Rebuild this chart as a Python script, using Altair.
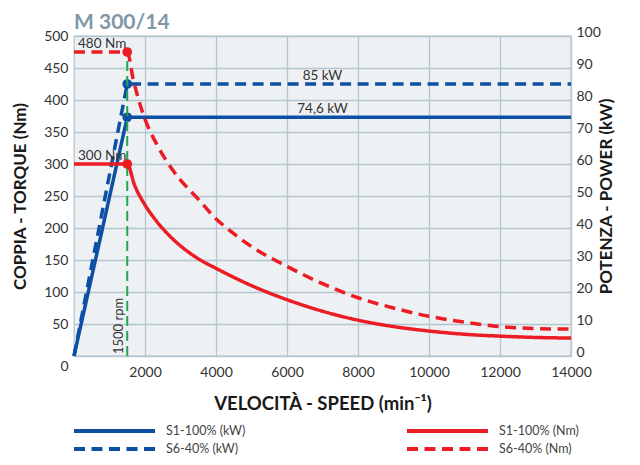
import altair as alt
import pandas as pd

# ---- data ----
s1_nm_speed = [0, 1500, 1700, 2000, 2250, 2800, 3500, 4000, 5000, 6000, 7000, 8000, 9000, 10000, 11000, 12000, 13000, 14000]
s1_nm_torque = [300, 300, 268, 236, 216, 182, 152, 137, 110, 88, 70, 56, 46, 39, 34, 31, 29, 28]

s6_nm_speed = [0, 1500, 1670, 2000, 2330, 2800, 3550, 3900, 4600, 5000, 6000, 7000, 8000, 9000, 10000, 11000, 12000, 13000, 14000]
s6_nm_torque = [475, 475, 432, 370, 331, 289, 242, 220, 187, 171, 140, 113, 91, 75, 62, 53, 46, 43, 42]

s1_kw_speed = [0, 1500, 14000]
s1_kw_power = [0, 74.6, 74.6]
s6_kw_speed = [0, 1500, 14000]
s6_kw_power = [0, 85, 85]

nm_series = ["S1-100% (Nm)", "S6-40% (Nm)"]
kw_series = ["S1-100% (kW)", "S6-40% (kW)"]

base_speed = 1500
nm_point_values = [300, 475]
kw_point_values = [74.6, 85]
nm_labels = ["300 Nm", "480 Nm"]
kw_labels = ["74,6 kW", "85 kW"]
kw_label_speed = 7000
rpm_label = "1500 rpm"

x_ticks = [2000, 4000, 6000, 8000, 10000, 12000, 14000]
y_nm_ticks = list(range(0, 501, 50))
y_kw_ticks = list(range(0, 101, 10))

BLUE = "#0d4fa3"
RED = "#ec1c24"
GREEN = "#1fa84b"
FONT = "Lato"

# ---- tables ----
nm_df = pd.concat([
    pd.DataFrame({"speed": s1_nm_speed, "val": s1_nm_torque, "series": nm_series[0]}),
    pd.DataFrame({"speed": s6_nm_speed, "val": s6_nm_torque, "series": nm_series[1]}),
])
kw_df = pd.concat([
    pd.DataFrame({"speed": s1_kw_speed, "val": s1_kw_power, "series": kw_series[0]}),
    pd.DataFrame({"speed": s6_kw_speed, "val": s6_kw_power, "series": kw_series[1]}),
])
nm_pts = pd.DataFrame({"speed": [base_speed] * 2, "val": nm_point_values, "label": nm_labels, "lx": [0, 0]})
kw_pts = pd.DataFrame({"speed": [base_speed] * 2, "val": kw_point_values, "label": kw_labels,
                       "lx": [kw_label_speed] * 2})
green_df = pd.DataFrame({"speed": [base_speed], "val": [0], "y1": [nm_point_values[1]], "label": [rpm_label]})

x_axis = alt.Axis(values=x_ticks, format="d", labelOverlap=False, labelFlush=False,
                  title="VELOCITÀ - SPEED (min⁻¹)",
                  labelFontSize=14, labelColor="#333", labelFont=FONT, labelPadding=9, ticks=False,
                  domain=False, grid=True, gridColor="#b5c5cd", gridWidth=1.3, titleFont=FONT,
                  titleFontSize=18.5, titleFontWeight="bold", titleColor="#1a1a1a", titlePadding=15)

left_axis = alt.Axis(orient="left", values=y_nm_ticks, labelOverlap=False, title="COPPIA - TORQUE (Nm)",
                     labelFontSize=14, labelColor="#333", labelFont=FONT, labelPadding=6, ticks=False,
                     domain=False, grid=True, gridColor="#b5c5cd", gridWidth=1.3,
                     labelOffset={"condition": {"test": "datum.value === 0", "value": 10}, "value": 0},
                     titleFont=FONT, titleFontSize=17, titleFontWeight="bold", titleColor="#1a1a1a",
                     titlePadding=14)
right_axis = alt.Axis(orient="right", values=y_kw_ticks, labelOverlap=False, title="POTENZA - POWER (kW)",
                      labelFontSize=14, labelColor="#333", labelFont=FONT, labelPadding=5, ticks=False,
                      domain=False, grid=False, labelOffset=-4, titleAngle=270, titleFont=FONT,
                      titleFontSize=17, titleFontWeight="bold", titleColor="#1a1a1a", titlePadding=15)


def X(field):
    return alt.X(f"{field}:Q", scale=alt.Scale(domain=[0, 14000], nice=False), axis=x_axis)


def Y_nm(field="val"):
    return alt.Y(f"{field}:Q", scale=alt.Scale(domain=[0, 500], nice=False), axis=left_axis)


def Y_kw(field="val"):
    return alt.Y(f"{field}:Q", scale=alt.Scale(domain=[0, 100], nice=False), axis=right_axis)


def legend(x):
    return alt.Legend(orient="none", legendX=x, legendY=387, title=None, symbolType="stroke",
                      symbolSize=6561, symbolStrokeWidth=4, clipHeight=16, rowPadding=2,
                      labelFont=FONT, labelFontSize=12.5, labelColor="#444", labelOffset=9, padding=0)


# ---- Nm layers (left axis) ----
red_lines = alt.Chart(nm_df).mark_line(strokeWidth=3.5, interpolate="monotone").encode(
    x=X("speed"),
    y=Y_nm(),
    color=alt.Color("series:N", scale=alt.Scale(domain=nm_series, range=[RED, RED]), legend=legend(331)),
    strokeDash=alt.StrokeDash("series:N", scale=alt.Scale(domain=nm_series, range=[[1, 0], [11, 6.5]]),
                              legend=legend(331)),
)
green_rule = alt.Chart(green_df).mark_rule(color=GREEN, strokeWidth=2, strokeDash=[10, 5]).encode(
    x=X("speed"), y=Y_nm(), y2="y1:Q")
rpm_text = alt.Chart(green_df).mark_text(angle=270, align="left", baseline="middle", dy=-8, dx=2,
                                         font=FONT, fontSize=13, color="#333").encode(
    x=X("speed"), y=Y_nm(), text="label:N")
red_pts = alt.Chart(nm_pts).mark_circle(size=95, opacity=1, color=RED).encode(x=X("speed"), y=Y_nm())
nm_text = alt.Chart(nm_pts).mark_text(align="left", baseline="alphabetic", dx=4, dy=-4, font=FONT,
                                      fontSize=13.5, color="#333").encode(x=X("lx"), y=Y_nm(), text="label:N")

nm_layer = alt.layer(green_rule, red_lines, red_pts, nm_text, rpm_text)

# ---- kW layers (right axis) ----
blue_lines = alt.Chart(kw_df).mark_line(strokeWidth=3.5).encode(
    x=X("speed"),
    y=Y_kw(),
    color=alt.Color("series:N", scale=alt.Scale(domain=kw_series, range=[BLUE, BLUE]), legend=legend(-2)),
    strokeDash=alt.StrokeDash("series:N", scale=alt.Scale(domain=kw_series, range=[[1, 0], [11, 6.5]]),
                              legend=legend(-2)),
)
blue_pts = alt.Chart(kw_pts).mark_circle(size=95, opacity=1, color=BLUE).encode(x=X("speed"), y=Y_kw())
kw_text = alt.Chart(kw_pts).mark_text(align="center", baseline="alphabetic", dy=-4, font=FONT,
                                      fontSize=13.5, color="#333").encode(x=X("lx"), y=Y_kw(), text="label:N")

kw_layer = alt.layer(blue_lines, blue_pts, kw_text)

chart = alt.layer(kw_layer, nm_layer).resolve_scale(
    y="independent", color="independent", strokeDash="independent"
).properties(
    width=497, height=320,
    title=alt.Title("M 300/14", anchor="start", frame="group", font=FONT, fontSize=21, fontWeight="bold",
                    color="#7f97a6", offset=-8),
    autosize=alt.AutoSizeParams(type="none"),
    padding={"left": 66, "top": 28, "right": 61, "bottom": 99},
).configure_view(fill="#eef1f4", stroke="#b5c5cd", strokeWidth=1.3)

chart.save("out.html", embed_options={"renderer": "svg", "actions": False})
